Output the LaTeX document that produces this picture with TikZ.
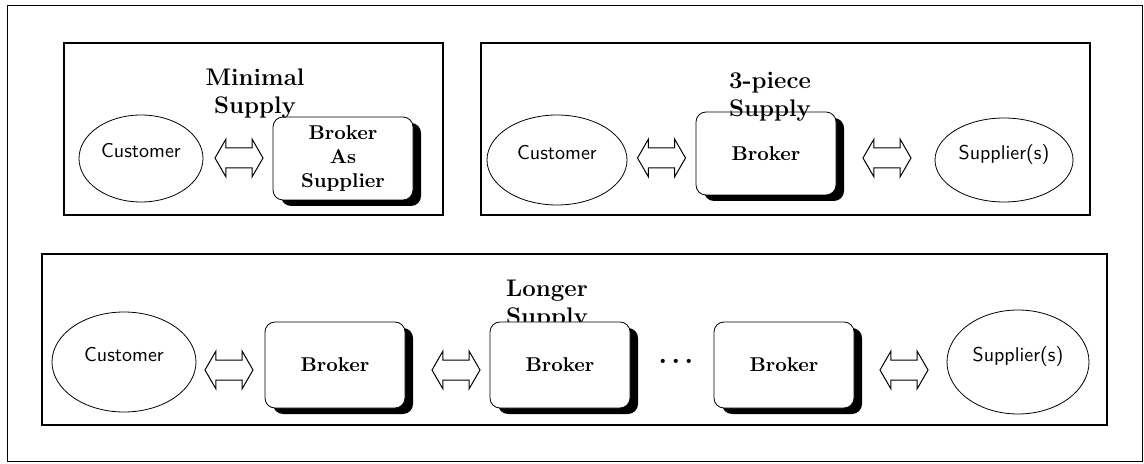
\documentclass[tikz,border=0pt]{standalone}
\usepackage{tikz}
\usetikzlibrary{positioning,shapes.geometric,shapes.arrows,shadows}

\tikzset{
    panel/.style={draw, line width=0.6pt},
    party/.style={draw, ellipse, line width=0.4pt, font=\sffamily, text depth=8pt, inner sep=0pt},
    broker/.style={draw, fill=white, rounded corners=5pt, minimum width=70pt, minimum height=43pt,
        font=\bfseries, align=center, line width=0.4pt,
        drop shadow={shadow xshift=4pt, shadow yshift=-3pt, fill=black, opacity=1}},
    flow/.style={draw, double arrow, double arrow tip angle=120, double arrow head extend=4.5pt,
        minimum height=24pt, text height=9.5pt, text depth=0pt, inner sep=0pt, line width=0.5pt},
    title/.style={font=\large\bfseries, align=center},
}

\begin{document}
\begin{tikzpicture}[x=0.5pt, y=-0.5pt]
    \useasboundingbox (0,0) rectangle (1144,464);

    % frames
    \draw[line width=0.5pt] (7,6) rectangle (1142,461);
    \draw[panel] (64,43) rectangle (443,215);
    \draw[panel] (481,43) rectangle (1090,215);
    \draw[panel] (42,254) rectangle (1107,425);

    \node[title] (ttl3) at (547,305) {Longer\\Supply};

    % minimal supply
    \node[party, minimum width=62pt, minimum height=43.5pt] (cust1) at (141,158.5) {Customer};
    \node[flow] (flow1) at (239,158) {};
    \node[broker, minimum height=41.5pt] (brk1) at (343,158.5) {Broker\\As\\Supplier};

    % 3-piece supply
    \node[party, minimum width=70pt, minimum height=45pt] (cust2) at (557,160) {Customer};
    \node[flow] (flow2a) at (661.5,158) {};
    \node[broker, minimum height=41.5pt] (brk2) at (766,153.5) {Broker};
    \node[flow] (flow2b) at (887,158) {};
    \node[party, minimum width=69pt, minimum height=42pt] (supp2) at (1004,160) {Supplier(s)};

    % longer supply
    \node[party, minimum width=72pt, minimum height=50pt] (cust3) at (124,362) {Customer};
    \node[flow] (flow3a) at (229,370) {};
    \node[broker] (brk3a) at (335,365) {Broker};
    \node[flow] (flow3b) at (456,370) {};
    \node[broker] (brk3b) at (560,365) {Broker};
    \node (dots) at (676,361) {\Large\bfseries .\hspace{2pt}.\hspace{2pt}.};
    \node[broker] (brk3c) at (784,365) {Broker};
    \node[flow] (flow3c) at (904,370) {};
    \node[party, minimum width=71pt, minimum height=52pt] (supp3) at (1018,362) {Supplier(s)};

    \node[title] (ttl1) at (255,94) {Minimal\\Supply};
    \node[title] (ttl2) at (770,97) {3-piece\\Supply};
\end{tikzpicture}
\end{document}
